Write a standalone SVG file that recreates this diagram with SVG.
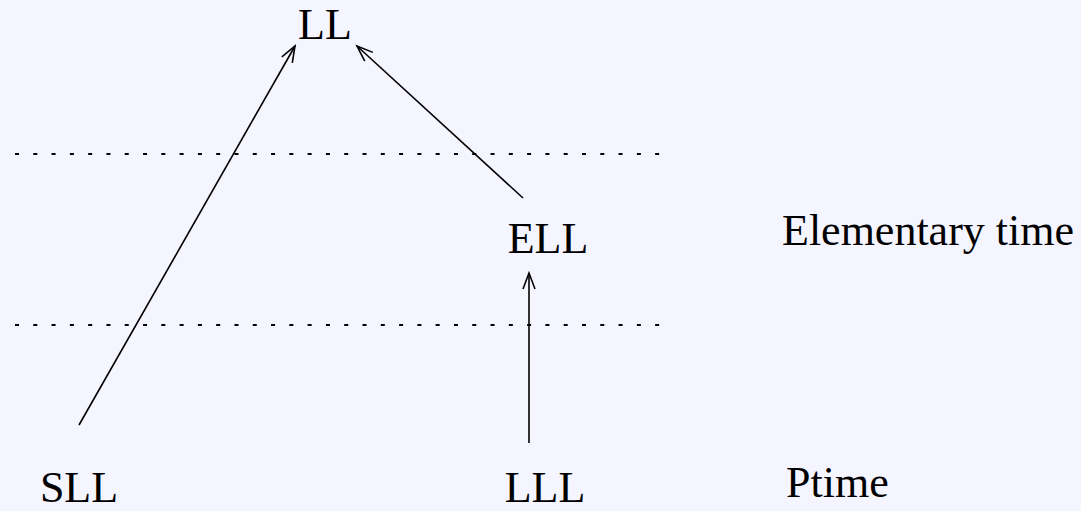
<svg xmlns="http://www.w3.org/2000/svg" width="1081" height="511" viewBox="0 0 1081 511">
<style>
.t{font-family:"Liberation Serif","Times New Roman",serif;font-size:44px;fill:#000}
.c{stroke:#000;stroke-width:1.6;fill:none}
.d{stroke:#000;stroke-width:2;stroke-dasharray:4 14.29;fill:none}
</style>
<defs>
<marker id="a" markerWidth="20" markerHeight="14" refX="17" refY="7" orient="auto" markerUnits="userSpaceOnUse">
<path d="M1,1 L17,7 L1,13" fill="none" stroke="#000" stroke-width="1.6"/>
</marker>
</defs>
<rect width="1081" height="511" fill="#f5f5ff"/>
<g id="levels">
<line class="d" x1="15" y1="154" x2="661" y2="154"/>
<line class="d" x1="15" y1="325" x2="661" y2="325"/>
</g>
<g id="connectors">
<line class="c" x1="79" y1="425" x2="295" y2="46" marker-end="url(#a)"/>
<line class="c" x1="523" y1="198" x2="357" y2="46" marker-end="url(#a)"/>
<line class="c" x1="529" y1="443" x2="529" y2="273" marker-end="url(#a)"/>
</g>
<g id="LL"><text class="t" x="325" y="39" text-anchor="middle">LL</text></g>
<g id="ELL"><text class="t" x="548" y="253" text-anchor="middle">ELL</text></g>
<g id="SLL"><text class="t" x="79" y="502" text-anchor="middle">SLL</text></g>
<g id="LLL"><text class="t" x="545" y="502" text-anchor="middle">LLL</text></g>
<g id="elementary"><text class="t" x="782" y="245">Elementary time</text></g>
<g id="ptime"><text class="t" x="786" y="497">Ptime</text></g>
</svg>
